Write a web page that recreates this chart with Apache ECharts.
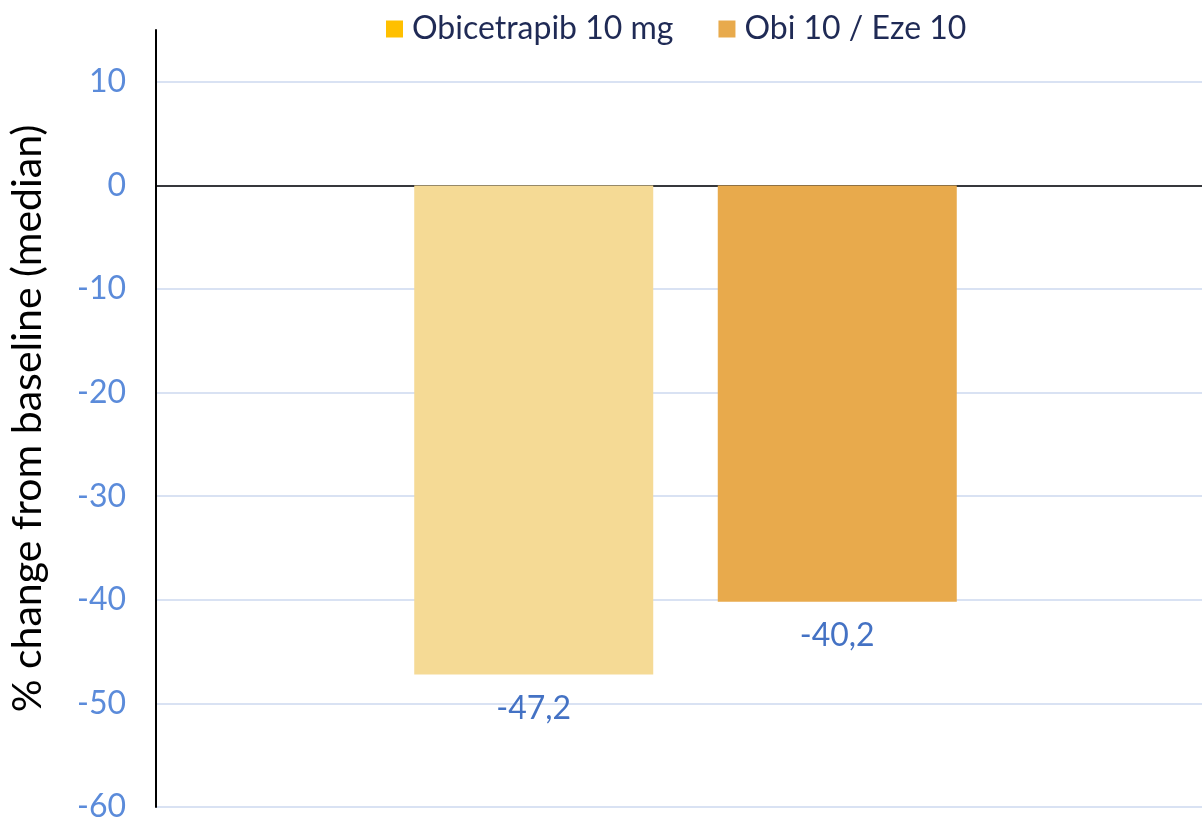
<!DOCTYPE html>
<html>
<head>
<meta charset="utf-8">
<script src="https://cdn.jsdelivr.net/npm/echarts@6/dist/echarts.min.js"></script>
<style>
  html, body { margin: 0; padding: 0; background: #fff; }
  #chart { width: 1202px; height: 817px; }
</style>
</head>
<body>
<div id="chart"></div>
<script>
// Median % change from baseline, one group with two treatment arms
const seriesNames = ['Obicetrapib 10 mg', 'Obi 10 / Eze 10'];
const obicetrapibValues = [-47.2];
const comboValues = [-40.2];
const categories = [''];
const yTicks = { min: -60, max: 15, interval: 10 };

const font = 'Lato, "Noto Sans", sans-serif';
const fmt = v => String(v).replace('.', ',');

const chart = echarts.init(document.getElementById('chart'));
chart.setOption({
  animation: false,
  backgroundColor: '#ffffff',
  textStyle: { fontFamily: font },
  legend: {
    top: 8,
    left: 381,
    itemWidth: 17,
    itemHeight: 17,
    itemGap: 45,
    icon: 'rect',
    textStyle: { fontFamily: font, fontSize: 32, color: '#1F2A55', padding: [0, 0, 0, 4] },
    data: seriesNames
  },
  grid: { left: 156, right: -13, top: 30, bottom: 10, containLabel: false, outerBoundsMode: 'none' },
  xAxis: {
    type: 'category',
    data: categories,
    axisLine: { onZero: true, lineStyle: { color: '#000', width: 1.5 } },
    axisTick: { show: false },
    axisLabel: { show: false },
    splitLine: { show: false }
  },
  yAxis: {
    type: 'value',
    min: yTicks.min,
    max: yTicks.max,
    interval: yTicks.interval,
    name: '% change from baseline (median)',
    nameLocation: 'middle',
    nameGap: 108,
    nameTextStyle: { fontFamily: font, fontSize: 41, color: '#000' },
    axisLine: { show: true, lineStyle: { color: '#000', width: 2 } },
    axisTick: { show: false },
    axisLabel: {
      fontFamily: font, fontSize: 32, color: '#5B8BDA', margin: 30,
      showMaxLabel: false,
      formatter: v => fmt(v)
    },
    splitLine: { show: true, showMaxLine: false, lineStyle: { color: '#D9E2F3', width: 2 } }
  },
  series: [
    {
      name: seriesNames[0],
      type: 'bar',
      color: '#FFC000',
      barWidth: 239,
      barGap: '27%',
      data: obicetrapibValues.map(v => ({ value: v, itemStyle: { color: '#F5DA95' } })),
      label: {
        show: true, position: 'bottom', distance: 18,
        fontFamily: font, fontSize: 32, color: '#4472C4',
        formatter: p => fmt(p.value)
      }
    },
    {
      name: seriesNames[1],
      type: 'bar',
      color: '#E8AA4C',
      barWidth: 239,
      data: comboValues,
      label: {
        show: true, position: 'bottom', distance: 18,
        fontFamily: font, fontSize: 32, color: '#4472C4',
        formatter: p => fmt(p.value)
      }
    }
  ]
});
</script>
</body>
</html>
